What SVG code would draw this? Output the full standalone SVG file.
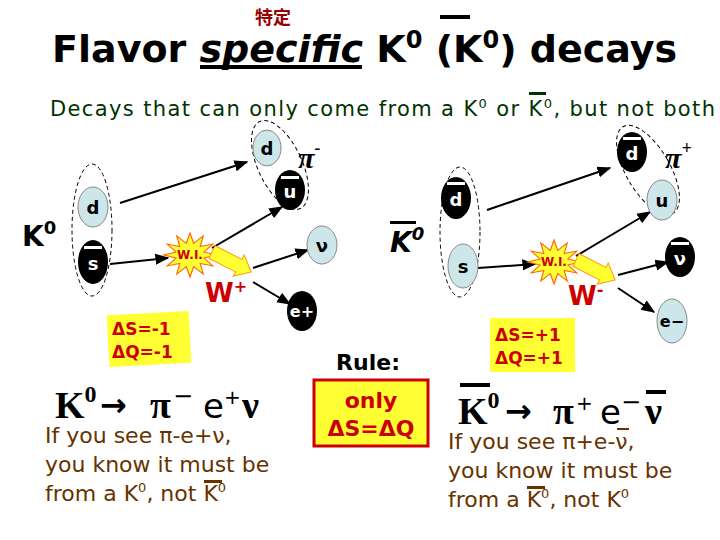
<svg xmlns="http://www.w3.org/2000/svg" width="720" height="540" viewBox="0 0 720 540">
<defs>
<marker id="ah" viewBox="0 0 10 10" refX="9" refY="5" markerWidth="7" markerHeight="7" orient="auto"><path d="M0,1 L10,5 L0,9 z" fill="#000"/></marker>
<polygon id="star" points="22,0 11.6,3.1 19,11 8.5,8.5 11,19 3.1,11.6 0,22 -3.1,11.6 -11,19 -8.5,8.5 -19,11 -11.6,3.1 -22,0 -11.6,-3.1 -19,-11 -8.5,-8.5 -11,-19 -3.1,-11.6 0,-22 3.1,-11.6 11,-19 8.5,-8.5 19,-11 11.6,-3.1" fill="#ffff33" stroke="#ff6600" stroke-width="1"/>
<polygon id="fat" points="0,-7 30,-7 30,-12 44,0 30,12 30,7 0,7" fill="#ffff33" stroke="#ff9900" stroke-width="1"/>
</defs>
<style>
.t{font-family:"DejaVu Sans",sans-serif;font-weight:bold}
.q{font-family:"DejaVu Sans",sans-serif;font-weight:bold;font-size:18px;text-anchor:middle}
.lb{fill:#cce6ea;stroke:#888;stroke-width:1}
.bk{fill:#000}
.ln{stroke:#000;stroke-width:2;fill:none;marker-end:url(#ah)}
.ds{fill:none;stroke:#000;stroke-width:1;stroke-dasharray:4,3}
.wi{font-family:"DejaVu Sans",sans-serif;font-weight:bold;font-size:12px;fill:#cc0000;text-anchor:middle}
.red{fill:#cc0000}
.br{font-family:"DejaVu Sans",sans-serif;font-size:22px;fill:#663300}
.big{font-family:"Liberation Serif",serif;font-weight:bold;font-size:38px}
.sym{font-family:"DejaVu Sans",sans-serif}
</style>
<rect width="720" height="540" fill="#fff"/>
<g id="title">
<text x="255" y="24" font-family="Noto Sans CJK JP,sans-serif" font-size="18" font-weight="bold" fill="#990000">特定</text>
<text x="52" y="62" class="t" font-size="38">Flavor <tspan font-style="italic">specific</tspan> K<tspan font-size="24" dy="-14">0</tspan><tspan dy="14"> (K</tspan><tspan font-size="24" dy="-14">0</tspan><tspan dy="14">) decays</tspan></text>
<rect x="200" y="65" width="162" height="4" fill="#000"/>
<rect x="440" y="15" width="30" height="4" fill="#000"/>
<text x="50" y="116" font-family="DejaVu Sans,sans-serif" font-size="21" fill="#003300" textLength="665" lengthAdjust="spacing">Decays that can only come from a K<tspan font-size="13" dy="-8">0</tspan><tspan dy="8"> or K</tspan><tspan font-size="13" dy="-8">0</tspan><tspan dy="8">, but not both</tspan></text>
<rect x="529" y="92" width="17" height="3" fill="#003300"/>
</g>
<g id="connectors">
<line class="ln" x1="120" y1="203" x2="247" y2="162"/>
<line class="ln" x1="110" y1="264" x2="168" y2="258"/>
<line class="ln" x1="212" y1="248" x2="282" y2="207"/>
<line class="ln" x1="253" y1="268" x2="308" y2="250"/>
<line class="ln" x1="253" y1="282" x2="290" y2="304"/>
<line class="ln" x1="487" y1="210" x2="610" y2="168"/>
<line class="ln" x1="478" y1="268" x2="535" y2="264"/>
<line class="ln" x1="576" y1="256" x2="650" y2="212"/>
<line class="ln" x1="618" y1="275" x2="668" y2="262"/>
<line class="ln" x1="618" y1="288" x2="654" y2="312"/>
</g>
<g id="k0">
<text x="22" y="246" class="t" font-size="28">K<tspan font-size="18" dy="-12">0</tspan></text>
<ellipse class="ds" cx="92" cy="230" rx="20" ry="66"/>
<ellipse class="lb" cx="93" cy="207" rx="15" ry="20"/><text x="93" y="214" class="q">d</text>
<ellipse class="bk" cx="93" cy="262" rx="15" ry="22"/><text x="93" y="270" class="q" fill="#fff">s</text><rect x="84" y="246" width="18" height="3" fill="#fff"/>
</g>
<g id="pim">
<ellipse class="ds" cx="280" cy="165" rx="22" ry="48" transform="rotate(-25 280 165)"/>
<ellipse class="lb" cx="267" cy="148" rx="14" ry="18"/><text x="267" y="155" class="q">d</text>
<ellipse class="bk" cx="290" cy="190" rx="15" ry="20"/><text x="290" y="198" class="q" fill="#fff">u</text><rect x="281" y="176" width="18" height="3" fill="#fff"/>
<text x="298" y="168" font-family="Liberation Serif,serif" font-style="italic" font-weight="bold" font-size="30">π<tspan font-size="18" dy="-14">-</tspan></text>
</g>
<g id="wl">
<use href="#star" transform="translate(190,255) scale(1.2,1)"/>
<text x="190" y="259" class="wi">W.I.</text>
<use href="#fat" transform="translate(212,252) rotate(27)"/>
<text x="205" y="302" class="t red" font-size="26">W<tspan font-size="16" dy="-10">+</tspan></text>
</g>
<g id="nu"><ellipse class="lb" cx="322" cy="245" rx="15" ry="19"/><text x="322" y="252" class="q">ν</text></g>
<g id="ep"><ellipse class="bk" cx="302" cy="311" rx="15" ry="20"/><text x="302" y="317" class="q" fill="#fff" style="font-size:16px">e+</text></g>
<g id="dsl">
<rect x="108" y="313" width="82" height="52" fill="#ffff33" transform="rotate(-3 149 339)"/>
<text x="112" y="335" class="t red" font-size="17">ΔS=-1</text>
<text x="112" y="358" class="t red" font-size="17">ΔQ=-1</text>
</g>
<g id="eqL">
<text x="55" y="418" class="big">K<tspan font-size="24" dy="-16">0</tspan></text>
<text x="100" y="416" class="sym" font-weight="bold" font-size="32">→</text>
<text x="150" y="418" class="big">π</text>
<text x="173" y="404" class="sym" font-size="24">−</text>
<text x="203" y="418" class="sym" font-size="34">e</text>
<text x="224" y="404" class="sym" font-size="20">+</text>
<text x="242" y="418" class="big">ν</text>
<text x="45" y="443" class="br">If you see π-e+ν,</text>
<text x="45" y="472" class="br">you know it must be</text>
<text x="45" y="501" class="br">from a K<tspan font-size="13" dy="-9">0</tspan><tspan dy="9">, not K</tspan><tspan font-size="13" dy="-9">0</tspan></text>
<rect x="204" y="480" width="18" height="3" fill="#663300"/>
</g>
<g id="kb">
<text x="390" y="252" class="t" font-size="28" font-style="italic">K<tspan font-size="18" dy="-12">0</tspan></text>
<rect x="390" y="221" width="26" height="3" fill="#000"/>
</g>
<g id="rule">
<text x="368" y="370" class="t" font-size="22" text-anchor="middle">Rule:</text>
<rect x="314" y="380" width="114" height="66" fill="#ffff33" stroke="#cc0000" stroke-width="3"/>
<text x="371" y="408" class="t red" font-size="22" text-anchor="middle">only</text>
<text x="371" y="436" class="t red" font-size="22" text-anchor="middle">ΔS=ΔQ</text>
</g>
<g id="k0b">
<ellipse class="ds" cx="460" cy="232" rx="20" ry="65"/>
<ellipse class="bk" cx="456" cy="198" rx="15" ry="21"/><text x="456" y="206" class="q" fill="#fff">d</text><rect x="447" y="182" width="18" height="3" fill="#fff"/>
<ellipse class="lb" cx="463" cy="266" rx="15" ry="22"/><text x="463" y="273" class="q">s</text>
</g>
<g id="pip">
<ellipse class="ds" cx="648" cy="170" rx="22" ry="50" transform="rotate(-30 648 170)"/>
<ellipse class="bk" cx="632" cy="152" rx="15" ry="20"/><text x="632" y="160" class="q" fill="#fff">d</text><rect x="623" y="137" width="18" height="3" fill="#fff"/>
<ellipse class="lb" cx="662" cy="200" rx="15" ry="20"/><text x="662" y="207" class="q">u</text>
<text x="665" y="168" font-family="Liberation Serif,serif" font-style="italic" font-weight="bold" font-size="30">π<tspan font-size="18" dy="-14">+</tspan></text>
</g>
<g id="wr">
<use href="#star" transform="translate(554,262) scale(1.2,1)"/>
<text x="554" y="266" class="wi">W.I.</text>
<use href="#fat" transform="translate(576,260) rotate(27)"/>
<text x="568" y="305" class="t red" font-size="26">W<tspan font-size="16" dy="-10">-</tspan></text>
</g>
<g id="nub"><ellipse class="bk" cx="680" cy="257" rx="15" ry="20"/><text x="680" y="265" class="q" fill="#fff">ν</text><rect x="671" y="242" width="18" height="3" fill="#fff"/></g>
<g id="em"><ellipse class="lb" cx="672" cy="321" rx="15" ry="22"/><text x="672" y="327" class="q" style="font-size:16px">e−</text></g>
<g id="dsr">
<rect x="490" y="318" width="85" height="54" fill="#ffff33"/>
<text x="495" y="341" class="t red" font-size="17">ΔS=+1</text>
<text x="495" y="364" class="t red" font-size="17">ΔQ=+1</text>
</g>
<g id="eqR">
<text x="458" y="424" class="big">K<tspan font-size="24" dy="-16">0</tspan></text>
<rect x="460" y="383" width="30" height="4" fill="#000"/>
<text x="505" y="422" class="sym" font-weight="bold" font-size="32">→</text>
<text x="553" y="424" class="big">π</text>
<text x="576" y="410" class="sym" font-size="20">+</text>
<text x="600" y="424" class="sym" font-size="34">e</text>
<text x="621" y="410" class="sym" font-size="24">−</text>
<text x="645" y="424" class="big">ν</text>
<rect x="646" y="390" width="20" height="4" fill="#000"/>
<text x="448" y="449" class="br">If you see π+e-ν,</text>
<rect x="617" y="428" width="12" height="2" fill="#663300"/>
<text x="448" y="478" class="br">you know it must be</text>
<text x="448" y="507" class="br">from a K<tspan font-size="13" dy="-9">0</tspan><tspan dy="9">, not K</tspan><tspan font-size="13" dy="-9">0</tspan></text>
<rect x="527" y="486" width="18" height="3" fill="#663300"/>
</g>
</svg>
